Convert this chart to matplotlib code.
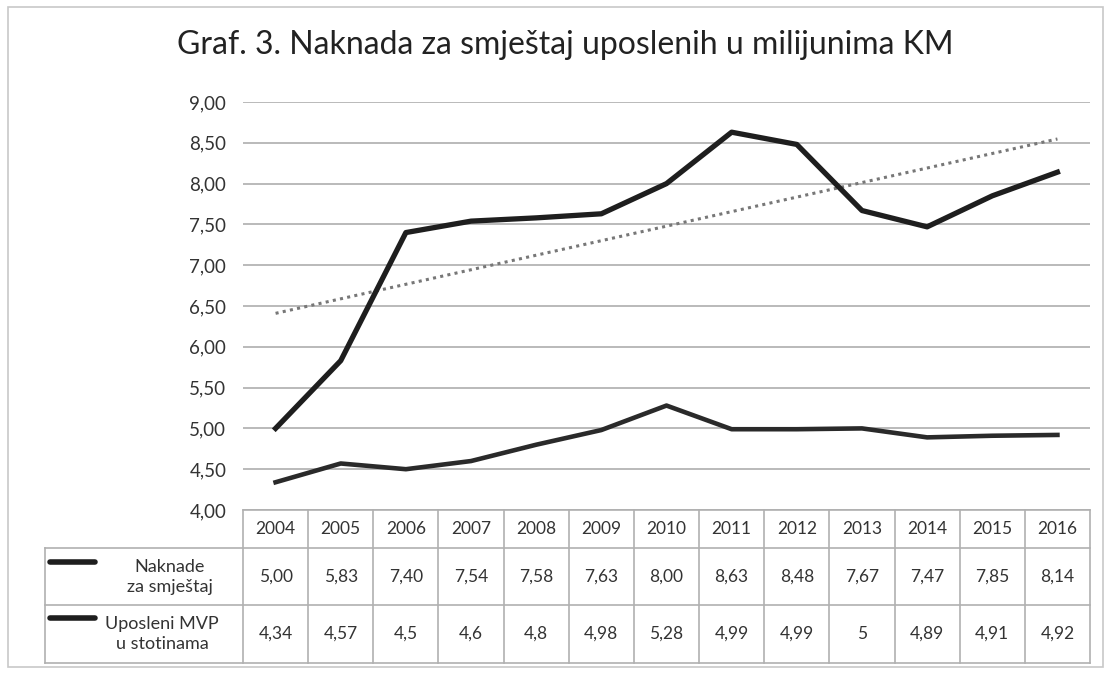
import matplotlib.pyplot as plt
import numpy as np
from matplotlib.patches import Rectangle

years = ['2004', '2005', '2006', '2007', '2008', '2009', '2010',
         '2011', '2012', '2013', '2014', '2015', '2016']
naknade = [5.00, 5.83, 7.40, 7.54, 7.58, 7.63, 8.00, 8.63, 8.48, 7.67, 7.47, 7.85, 8.14]
uposleni = [4.34, 4.57, 4.5, 4.6, 4.8, 4.98, 5.28, 4.99, 4.99, 5, 4.89, 4.91, 4.92]
naknade_txt = ['5,00', '5,83', '7,40', '7,54', '7,58', '7,63', '8,00',
               '8,63', '8,48', '7,67', '7,47', '7,85', '8,14']
uposleni_txt = ['4,34', '4,57', '4,5', '4,6', '4,8', '4,98', '5,28',
                '4,99', '4,99', '5', '4,89', '4,91', '4,92']
row_labels = ['Naknade\nza smještaj', 'Uposleni MVP\nu stotinama']
title = 'Graf. 3. Naknada za smještaj uposlenih u milijunima KM'

plt.rcParams['font.family'] = ['Lato', 'DejaVu Sans']
W, H = 1110, 673
fig = plt.figure(figsize=(W / 100, H / 100), dpi=100)
fig.patch.set_facecolor('white')

# chart area border
fig.patches.append(Rectangle((8 / W, 6 / H), 1095 / W, 660 / H, transform=fig.transFigure,
                             fill=False, edgecolor='#c8c8c8', lw=1.2))

left, right, top, bottom = 243, 1090, 102, 510
ax = fig.add_axes([left / W, 1 - bottom / H, (right - left) / W, (bottom - top) / H])
x = np.arange(len(years))
ax.set_xlim(-0.5, len(years) - 0.5)
ax.set_ylim(4.0, 9.0)
yt = np.arange(4.0, 9.01, 0.5)
ax.set_yticks(yt)
ax.set_yticklabels([f'{v:.2f}'.replace('.', ',') for v in yt], fontsize=13.5, color='#333333')
ax.tick_params(axis='y', length=0, pad=12)
ax.set_xticks([])
for s in ax.spines.values():
    s.set_visible(False)
ax.grid(axis='y', color='#b4b4b4', lw=1.3)
ax.set_axisbelow(True)

ax.plot(x, naknade, color='#1e1e1e', lw=3.8, solid_joinstyle='round', zorder=3)
ax.plot(x, uposleni, color='#2a2a2a', lw=3.3, solid_joinstyle='round', zorder=3)
k, b = np.polyfit(x, naknade, 1)
ax.plot(x, k * x + b, color='#777777', lw=2.2, ls=(0, (1, 1.4)), zorder=2)

fig.text(565 / W, 1 - 45 / H, title, ha='center', va='center', fontsize=23, color='#222222')

# data table below the plot
ah = bottom - top
def ay(py):
    return (bottom - py) / ah

tr = ax.get_xaxis_transform()
tx0 = -0.5 - (left - 45) / ((right - left) / len(years))
row_lines = [548, 605, 663]
lc = '#b0b0b0'
ax.plot([-0.5, len(years) - 0.5], [ay(510)] * 2, transform=tr, color=lc, lw=1.2, clip_on=False)
for py in row_lines:
    ax.plot([tx0, len(years) - 0.5], [ay(py)] * 2, transform=tr, color=lc, lw=1.2, clip_on=False)
ax.plot([tx0, tx0], [ay(548), ay(663)], transform=tr, color=lc, lw=1.2, clip_on=False)
for i in range(len(years) + 1):
    ax.plot([i - 0.5, i - 0.5], [ay(510), ay(663)], transform=tr, color=lc, lw=1.2, clip_on=False)

for i, yr in enumerate(years):
    ax.text(i, ay(529), yr, transform=tr, ha='center', va='center', fontsize=12.5, color='#333333')
    ax.text(i, ay(577), naknade_txt[i], transform=tr, ha='center', va='center', fontsize=12.5, color='#333333')
    ax.text(i, ay(634), uposleni_txt[i], transform=tr, ha='center', va='center', fontsize=12.5, color='#333333')

cw = (right - left) / len(years)
def dx(px):
    return -0.5 + (px - left) / cw

ax.plot([dx(50), dx(95)], [ay(562)] * 2, transform=tr, color='#1e1e1e', lw=4, clip_on=False,
        solid_capstyle='round')
ax.plot([dx(50), dx(95)], [ay(618)] * 2, transform=tr, color='#1e1e1e', lw=4, clip_on=False,
        solid_capstyle='round')
ax.text(dx(170), ay(577), row_labels[0], transform=tr, ha='center', va='center',
        fontsize=13, color='#333333', linespacing=1.35)
ax.text(dx(162), ay(634), row_labels[1], transform=tr, ha='center', va='center',
        fontsize=13, color='#333333', linespacing=1.35)

fig.savefig('out.png', dpi=100)
